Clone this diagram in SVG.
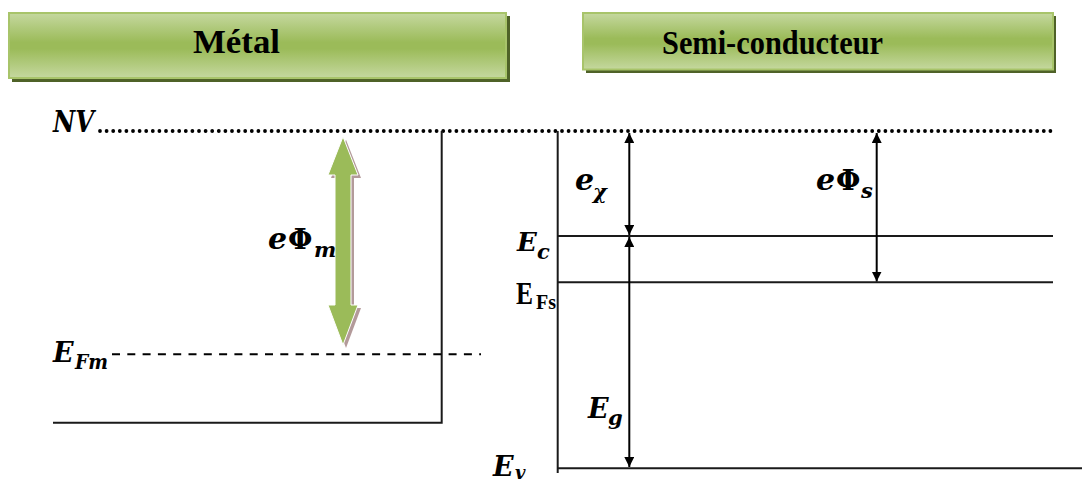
<svg xmlns="http://www.w3.org/2000/svg" width="1082" height="481" viewBox="0 0 1082 481">
<style>
.hdr{font-family:"Liberation Serif","Times New Roman",serif;font-weight:bold;font-size:33px;fill:#000}
.m{font-family:"DejaVu Serif","Liberation Serif",serif;font-weight:bold;font-style:italic;fill:#000}
.g{font-family:"DejaVu Serif","Liberation Serif",serif;font-weight:bold;fill:#000}
.up{font-family:"Liberation Serif","Times New Roman",serif;font-weight:bold;fill:#000}
.ln{stroke:#1a1a1a;stroke-width:2;fill:none}
.arr{stroke:#000;stroke-width:2;fill:none;marker-start:url(#ah);marker-end:url(#ah)}
</style>
<defs>
<linearGradient id="hg" x1="0" y1="0" x2="0" y2="1">
<stop offset="0" stop-color="#c5d89f"/>
<stop offset="0.45" stop-color="#9bbb59"/>
<stop offset="0.55" stop-color="#9bbb59"/>
<stop offset="1" stop-color="#c5d89f"/>
</linearGradient>
<marker id="ah" viewBox="0 0 10 10" refX="10" refY="5" markerWidth="10" markerHeight="10" markerUnits="userSpaceOnUse" orient="auto-start-reverse">
<path d="M0,0 L10,5 L0,10 Z" fill="#000"/>
</marker>
</defs>
<rect width="1082" height="481" fill="#fff"/>
<g id="hdr-metal">
<rect x="12" y="16" width="498" height="66" fill="#4f6228"/>
<rect x="9" y="13" width="497" height="65" fill="url(#hg)" stroke="#a8c46a" stroke-width="2"/>
<text class="hdr" x="193" y="53" textLength="87" lengthAdjust="spacingAndGlyphs">Métal</text>
</g>
<g id="hdr-semi">
<rect x="586" y="16" width="470" height="57" fill="#4f6228"/>
<rect x="583" y="13" width="470" height="56.5" fill="url(#hg)" stroke="#a8c46a" stroke-width="2"/>
<text class="hdr" x="662" y="53.5" textLength="221" lengthAdjust="spacingAndGlyphs">Semi-conducteur</text>
</g>
<g id="connectors">
<line x1="100" y1="131" x2="1056" y2="131" stroke="#000" stroke-width="3.8" stroke-linecap="round" stroke-dasharray="0 6.6"/>
<polyline class="ln" points="441.7,131 441.7,422.7 53,422.7"/>
<line x1="112" y1="354.3" x2="481" y2="354.3" stroke="#000" stroke-width="2" stroke-dasharray="8 7.3"/>
<line class="ln" x1="557.7" y1="131" x2="557.7" y2="473"/>
<line class="ln" x1="557.7" y1="236" x2="1053" y2="236"/>
<line class="ln" x1="557.7" y1="282.3" x2="1053" y2="282.3"/>
<line class="ln" x1="557.7" y1="468.3" x2="1082" y2="468.3"/>
<line class="arr" x1="629.3" y1="133" x2="629.3" y2="235"/>
<line class="arr" x1="629.3" y1="237" x2="629.3" y2="467"/>
<line class="arr" x1="876.7" y1="133" x2="876.7" y2="281.5"/>
</g>
<g id="arrow-phim">
<polygon points="346,139.7 331,178 338,178 338,308 331,308 346,348 361,308 354,308 354,178 361,178" fill="#b39a9a"/>
<polygon points="343,136.7 328,175 335,175 335,305 328,305 343,345 358,305 351,305 351,175 358,175" fill="#9bbb59" stroke="#fff" stroke-width="1"/>
</g>
<g id="labels">
<text class="m" x="53" y="132" font-size="30" textLength="41" lengthAdjust="spacingAndGlyphs">NV</text>
<text class="m" x="53" y="362" font-size="27">E</text>
<text class="m" x="75" y="369" font-size="20" textLength="33" lengthAdjust="spacingAndGlyphs">Fm</text>
<text class="m" x="268" y="249" font-size="30">e</text>
<text class="g" x="288" y="249" font-size="28">Φ</text>
<text class="m" x="314" y="257" font-size="21">m</text>
<text class="m" x="575" y="190" font-size="30">e</text>
<text class="m" x="593" y="199" font-size="21">χ</text>
<text class="m" x="816" y="190" font-size="30">e</text>
<text class="g" x="836" y="190" font-size="28">Φ</text>
<text class="m" x="861" y="198" font-size="21">s</text>
<text class="m" x="517" y="251" font-size="26">E</text>
<text class="m" x="537" y="259" font-size="21">c</text>
<text class="up" x="516" y="304" font-size="32" textLength="17" lengthAdjust="spacingAndGlyphs">E</text>
<text class="up" x="536" y="309" font-size="20" textLength="20" lengthAdjust="spacingAndGlyphs">Fs</text>
<text class="m" x="588" y="418" font-size="27">E</text>
<text class="m" x="608" y="425" font-size="21">g</text>
<text class="m" x="493" y="476" font-size="27">E</text>
<text class="m" x="515" y="479" font-size="18">v</text>
</g>
</svg>
